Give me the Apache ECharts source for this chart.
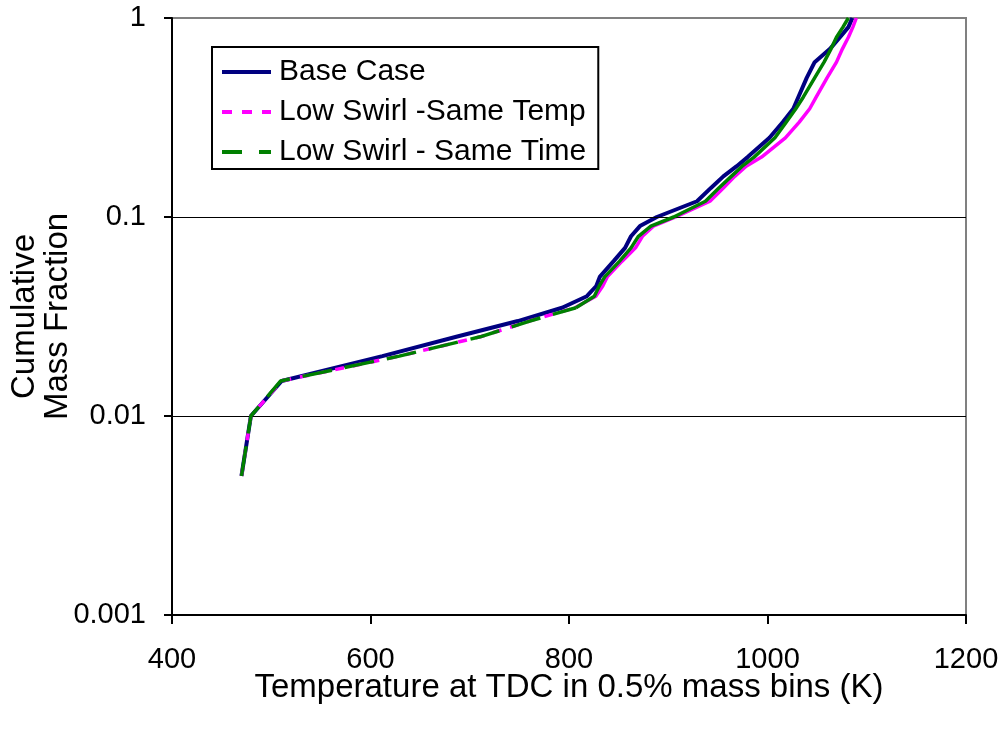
<!DOCTYPE html>
<html>
<head>
<meta charset="utf-8">
<script src="https://cdn.jsdelivr.net/npm/echarts@6/dist/echarts.min.js"></script>
<style>
html,body{margin:0;padding:0;background:#fff;}
#chart{width:1008px;height:735px;}
</style>
</head>
<body>
<div id="chart"></div>
<script>
// Cumulative mass fraction levels (0.5% mass bins)
var fractions = [0.005,0.01,0.015,0.02,0.025,0.03,0.035,0.04,0.045,0.05,0.06,0.07,0.08,0.09,0.1,0.12,0.14,0.16,0.18,0.2,0.25,0.3,0.35,0.4,0.5,0.6,0.7,0.8,0.9,1.0];
// Temperature at TDC (K) for each level
var baseCase     = [470,479.5,510.5,612,686.5,748.5,793,818,827.5,831,845,856.5,862.5,871.5,888.5,929,943,955.5,969,980,1002,1015.5,1026,1031,1039.5,1047.5,1063,1073,1081.5,1085.5];
var sameTemp     = [470,479.5,510.5,629,710.5,760,806,827,834,838.5,853.5,867,874,885,907.5,942,955.5,967,978.5,994,1018,1032,1042.5,1049,1060,1069.5,1075.5,1081.5,1086,1089.5];
var sameTime     = [470,479.5,509.5,629,710.5,760.5,807,825.5,830.5,836,851,862.5,870,882.5,905.5,937.5,951,963.5,974.5,986.5,1007.5,1019,1028.5,1036,1047.5,1057,1064,1069.5,1076,1081.5];
var seriesNames  = ['Base Case','Low Swirl -Same Temp','Low Swirl - Same Time'];
var xTicks       = [400,600,800,1000,1200];
var yTickLabels  = ['0.001','0.01','0.1','1'];
var gridLines    = [0.1,0.01];
var dashEndIndex = 6; // dashes are visible on the flat low part; dense steep part looks solid

function pairs(xs, a, b){
  var out = [];
  for (var i = (a||0); i <= (b===undefined ? xs.length-1 : b); i++) out.push([xs[i], fractions[i]]);
  return out;
}

var FONT = 'Liberation Sans, Arial, sans-serif';
var chart = echarts.init(document.getElementById('chart'), null, {renderer:'canvas'});
chart.setOption({
  animation:false,
  backgroundColor:'#fff',
  grid:{left:172,right:42,top:18,bottom:120,show:true,borderColor:'#808080',borderWidth:2,
        backgroundColor:'transparent',containLabel:false,outerBoundsMode:'none'},
  legend:{
    orient:'vertical', left:212, top:47,
    itemWidth:49, itemHeight:14, itemGap:10,
    padding:[10,12,2,8],
    borderColor:'#000', borderWidth:2, backgroundColor:'#fff',
    itemStyle:{opacity:0},
    textStyle:{fontFamily:FONT,fontSize:30,color:'#000',padding:[0,0,0,3]},
    data:[
      {name:seriesNames[0], lineStyle:{color:'#000080',width:4,type:'solid'}},
      {name:seriesNames[1], lineStyle:{color:'#FF00FF',width:4,type:[10,10]}},
      {name:seriesNames[2], lineStyle:{color:'#008000',width:4,type:[20,17]}}
    ]
  },
  xAxis:{
    type:'value', min:xTicks[0], max:xTicks[xTicks.length-1], interval:200,
    name:'Temperature at TDC in 0.5% mass bins (K)', nameLocation:'middle', nameGap:56,
    nameMoveOverlap:false,
    nameTextStyle:{fontFamily:FONT,fontSize:33,color:'#000'},
    axisLine:{show:true,onZero:false,lineStyle:{color:'#000',width:2}},
    axisTick:{show:true,inside:false,length:9,lineStyle:{color:'#000',width:2}},
    axisLabel:{fontFamily:FONT,fontSize:29,color:'#000',margin:30,
      formatter:function(v){ return String(v); }},
    splitLine:{show:false}
  },
  yAxis:{
    type:'log', logBase:10, min:0.001, max:1,
    name:'Cumulative\nMass Fraction', nameLocation:'middle', nameGap:98, nameRotate:90,
    nameMoveOverlap:false,
    nameTextStyle:{fontFamily:FONT,fontSize:33,color:'#000',lineHeight:33},
    axisLine:{show:true,lineStyle:{color:'#000',width:2}},
    axisTick:{show:true,inside:false,length:8,lineStyle:{color:'#000',width:2}},
    axisLabel:{fontFamily:FONT,fontSize:29,color:'#000',margin:26,
      formatter:function(v){ var i=Math.round(Math.log10(v)+3); return yTickLabels[i]!==undefined?yTickLabels[i]:''; }},
    splitLine:{show:false},
    minorTick:{show:false}
  },
  series:[
    {name:seriesNames[0],type:'line',data:pairs(baseCase),symbol:'none',
     lineStyle:{color:'#000080',width:4},itemStyle:{color:'#000080'},z:3,
     markLine:{silent:true,symbol:['none','none'],label:{show:false},
       lineStyle:{color:'#000',width:1,type:'solid'},
       data:gridLines.map(function(v){return {yAxis:v};})}},
    {name:seriesNames[1],type:'line',data:pairs(sameTemp,0,dashEndIndex),symbol:'none',
     lineStyle:{color:'#FF00FF',width:3.5,type:[9,9]},itemStyle:{color:'#FF00FF'},z:4},
    {name:seriesNames[1],type:'line',data:pairs(sameTemp,dashEndIndex),symbol:'none',
     lineStyle:{color:'#FF00FF',width:3.5,type:'solid'},itemStyle:{color:'#FF00FF'},z:4},
    {name:seriesNames[2],type:'line',data:pairs(sameTime,0,dashEndIndex),symbol:'none',
     lineStyle:{color:'#008000',width:3.5,type:[30,13]},itemStyle:{color:'#008000'},z:5},
    {name:seriesNames[2],type:'line',data:pairs(sameTime,dashEndIndex),symbol:'none',
     lineStyle:{color:'#008000',width:3.5,type:'solid'},itemStyle:{color:'#008000'},z:5}
  ]
});
</script>
</body>
</html>
